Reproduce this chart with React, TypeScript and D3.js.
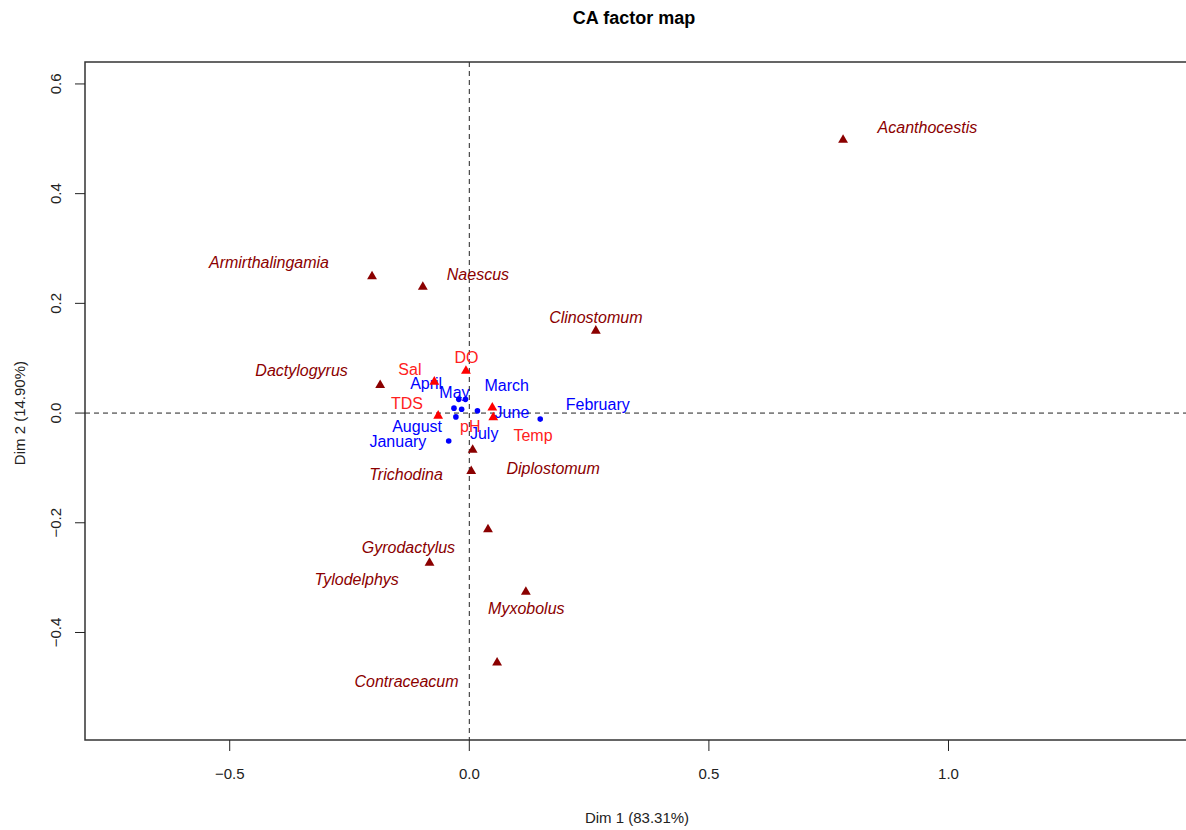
import React, { useRef, useEffect } from "react";
import * as d3 from "d3";

// species (columns), drawn as dark red triangles
const speciesNames = ["Acanthocestis", "Armirthalingamia", "Naescus", "Clinostomum", "Dactylogyrus", "Diplostomum", "Trichodina", "Gyrodactylus", "Tylodelphys", "Myxobolus", "Contraceacum"];
const speciesDim1 = [0.780, -0.203, -0.097, 0.264, -0.186, 0.007, 0.004, 0.039, -0.083, 0.118, 0.058];
const speciesDim2 = [0.498, 0.249, 0.230, 0.150, 0.051, -0.067, -0.106, -0.212, -0.273, -0.326, -0.455];
// label positions chosen by autoLab
const speciesLabDim1 = [0.956, -0.418, 0.018, 0.264, -0.350, 0.175, -0.132, -0.127, -0.235, 0.119, -0.131];
const speciesLabDim2 = [0.520, 0.274, 0.252, 0.174, 0.077, -0.100, -0.111, -0.244, -0.303, -0.357, -0.489];

// months (rows), blue dots
const monthNames = ["January", "February", "March", "April", "May", "June", "July", "August"];
const monthDim1 = [-0.043, 0.148, -0.008, -0.022, -0.032, 0.017, -0.016, -0.028];
const monthDim2 = [-0.051, -0.011, 0.025, 0.025, 0.009, 0.004, 0.007, -0.007];
const monthLabDim1 = [-0.149, 0.268, 0.078, -0.090, -0.031, 0.089, 0.031, -0.109];
const monthLabDim2 = [-0.051, 0.016, 0.050, 0.054, 0.037, 0.002, -0.037, -0.024];

// supplementary variables, red triangles
const varNames = ["DO", "Sal", "TDS", "pH", "Temp"];
const varDim1 = [-0.007, -0.073, -0.065, 0.048, 0.050];
const varDim2 = [0.077, 0.057, -0.005, 0.010, -0.008];
const varLabDim1 = [-0.006, -0.124, -0.130, 0.002, 0.133];
const varLabDim2 = [0.102, 0.080, 0.018, -0.024, -0.040];

const xTicks = [-0.5, 0, 0.5, 1.0];
const yTicks = [-0.4, -0.2, 0, 0.2, 0.4, 0.6];

const CAFactorMap = () => {
  const svgRef = useRef(null);

  useEffect(() => {
    const width = 1186;
    const height = 830;
    const margin = { top: 62, right: -4, bottom: 90, left: 85 };
    const font = "'Liberation Sans', Arial, sans-serif";

    const svg = d3.select(svgRef.current).attr("width", width).attr("height", height);
    svg.selectAll("*").remove();

    const xScale = d3.scaleLinear().domain([-0.802, 1.504]).range([margin.left, width - margin.right]);
    const yScale = d3.scaleLinear().domain([-0.596, 0.640]).range([height - margin.bottom, margin.top]);

    const x0 = margin.left;
    const x1 = width - margin.right;
    const y0 = margin.top;
    const y1 = height - margin.bottom;

    // dashed origin lines
    svg.append("line")
      .attr("x1", x0).attr("x2", x1)
      .attr("y1", yScale(0)).attr("y2", yScale(0))
      .attr("stroke", "#222").attr("stroke-dasharray", "5,4");
    svg.append("line")
      .attr("x1", xScale(0)).attr("x2", xScale(0))
      .attr("y1", y0).attr("y2", y1)
      .attr("stroke", "#222").attr("stroke-dasharray", "5,4");

    // box
    svg.append("rect")
      .attr("x", x0).attr("y", y0)
      .attr("width", x1 - x0).attr("height", y1 - y0)
      .attr("fill", "none").attr("stroke", "#333").attr("stroke-width", 1.5);

    // x axis
    const xAxis = svg.append("g");
    xAxis.selectAll("line").data(xTicks).join("line")
      .attr("x1", (d) => xScale(d)).attr("x2", (d) => xScale(d))
      .attr("y1", y1).attr("y2", y1 + 11)
      .attr("stroke", "#222");
    xAxis.selectAll("text").data(xTicks).join("text")
      .attr("x", (d) => xScale(d)).attr("y", y1 + 34)
      .attr("dy", "0.35em").attr("text-anchor", "middle")
      .attr("font-family", font).attr("font-size", 15).attr("fill", "#222")
      .text((d) => d3.format(".1f")(d));

    // y axis
    const yAxis = svg.append("g");
    yAxis.selectAll("line").data(yTicks).join("line")
      .attr("x1", x0 - 10).attr("x2", x0)
      .attr("y1", (d) => yScale(d)).attr("y2", (d) => yScale(d))
      .attr("stroke", "#222");
    yAxis.selectAll("text").data(yTicks).join("text")
      .attr("transform", (d) => `translate(${x0 - 29},${yScale(d)}) rotate(-90)`)
      .attr("dy", "0.35em").attr("text-anchor", "middle")
      .attr("font-family", font).attr("font-size", 15).attr("fill", "#222")
      .text((d) => d3.format(".1f")(d));

    // titles
    svg.append("text")
      .attr("x", 634).attr("y", 18).attr("dy", "0.35em")
      .attr("text-anchor", "middle").attr("font-family", font)
      .attr("font-size", 18).attr("font-weight", "bold").attr("fill", "#000")
      .text("CA factor map");
    svg.append("text")
      .attr("x", 637).attr("y", 818).attr("dy", "0.35em")
      .attr("text-anchor", "middle").attr("font-family", font)
      .attr("font-size", 15).attr("fill", "#222")
      .text("Dim 1 (83.31%)");
    svg.append("text")
      .attr("transform", `translate(20,${yScale(0)}) rotate(-90)`)
      .attr("dy", "0.35em").attr("text-anchor", "middle")
      .attr("font-family", font).attr("font-size", 15).attr("fill", "#222")
      .text("Dim 2 (14.90%)");

    const tri = d3.symbol().type(d3.symbolTriangle).size(42);

    const species = speciesNames.map((name, i) => ({
      name, x: speciesDim1[i], y: speciesDim2[i], lx: speciesLabDim1[i], ly: speciesLabDim2[i],
    }));
    const months = monthNames.map((name, i) => ({
      name, x: monthDim1[i], y: monthDim2[i], lx: monthLabDim1[i], ly: monthLabDim2[i],
    }));
    const vars = varNames.map((name, i) => ({
      name, x: varDim1[i], y: varDim2[i], lx: varLabDim1[i], ly: varLabDim2[i],
    }));

    // species
    svg.append("g").selectAll("path").data(species).join("path")
      .attr("d", tri)
      .attr("transform", (d) => `translate(${xScale(d.x)},${yScale(d.y)})`)
      .attr("fill", "#8B0000");
    svg.append("g").selectAll("text").data(species).join("text")
      .attr("x", (d) => xScale(d.lx)).attr("y", (d) => yScale(d.ly))
      .attr("dy", "0.35em").attr("text-anchor", "middle")
      .attr("font-family", font).attr("font-size", 16).attr("font-style", "italic")
      .attr("fill", "#8B0000")
      .text((d) => d.name);

    // months
    svg.append("g").selectAll("circle").data(months).join("circle")
      .attr("cx", (d) => xScale(d.x)).attr("cy", (d) => yScale(d.y))
      .attr("r", 2.8).attr("fill", "#0000FF");
    svg.append("g").selectAll("text").data(months).join("text")
      .attr("x", (d) => xScale(d.lx)).attr("y", (d) => yScale(d.ly))
      .attr("dy", "0.35em").attr("text-anchor", "middle")
      .attr("font-family", font).attr("font-size", 16)
      .attr("fill", "#0000FF")
      .text((d) => d.name);

    // supplementary variables
    svg.append("g").selectAll("path").data(vars).join("path")
      .attr("d", tri)
      .attr("transform", (d) => `translate(${xScale(d.x)},${yScale(d.y)})`)
      .attr("fill", "#FF0000");
    svg.append("g").selectAll("text").data(vars).join("text")
      .attr("x", (d) => xScale(d.lx)).attr("y", (d) => yScale(d.ly))
      .attr("dy", "0.35em").attr("text-anchor", "middle")
      .attr("font-family", font).attr("font-size", 16)
      .attr("fill", "#FF2020")
      .text((d) => d.name);
  }, []);

  return (
    <div style={{ position: "absolute", left: 0, top: 0, background: "#fff" }}>
      <svg ref={svgRef} style={{ display: "block" }}></svg>
    </div>
  );
};

export default function App() {
  return <CAFactorMap />;
}
